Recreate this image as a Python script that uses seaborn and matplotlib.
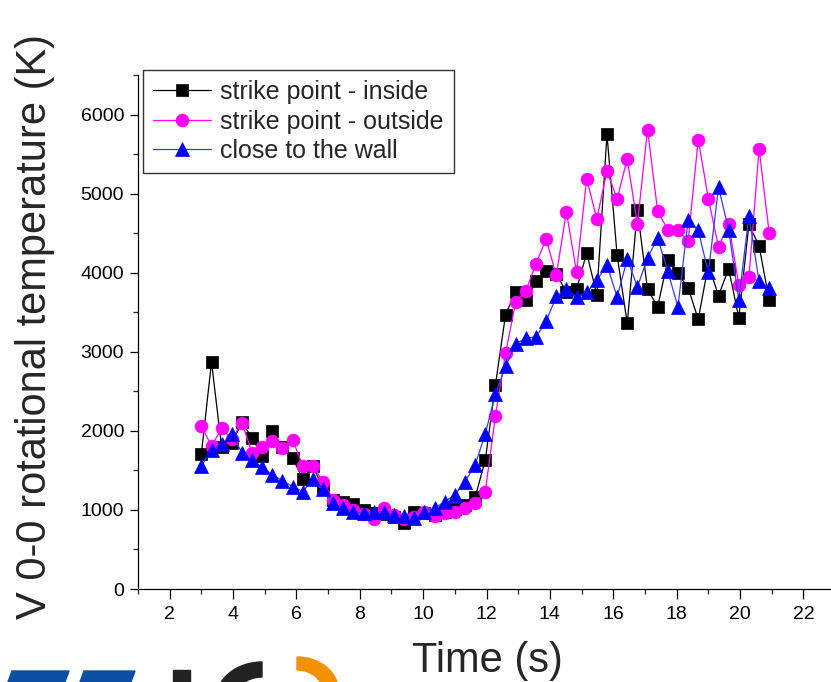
import numpy as np
import pandas as pd
import matplotlib
matplotlib.use("Agg")
import matplotlib.pyplot as plt
from matplotlib.patches import Polygon, Wedge
import seaborn as sns

# ---- data ----
time_s = [3.00, 3.32, 3.64, 3.96, 4.28, 4.60, 4.92, 5.24, 5.56, 5.88,
          6.20, 6.52, 6.84, 7.16, 7.48, 7.80, 8.12, 8.44, 8.76, 9.08,
          9.40, 9.72, 10.04, 10.36, 10.68, 11.00, 11.32, 11.64, 11.96, 12.28,
          12.60, 12.92, 13.24, 13.56, 13.88, 14.20, 14.52, 14.84, 15.16, 15.48,
          15.80, 16.12, 16.44, 16.76, 17.08, 17.40, 17.72, 18.04, 18.36, 18.68,
          19.00, 19.32, 19.64, 19.96, 20.28, 20.60, 20.92]

inside = [1710, 2870, 1790, 1840, 2110, 1910, 1680, 2000, 1790, 1660,
          1390, 1550, 1280, 1130, 1100, 1080, 1000, 960, 950, 910,
          830, 970, 960, 940, 970, 1010, 1060, 1160, 1630, 2580,
          3470, 3760, 3650, 3890, 4020, 3980, 3760, 3790, 4250, 3720,
          5750, 4220, 3360, 4790, 3790, 3570, 4160, 3990, 3810, 3410,
          4100, 3710, 4050, 3430, 4610, 4340, 3650]

outside = [2060, 1810, 2030, 1895, 2105, 1720, 1790, 1873, 1780, 1886,
           1560, 1557, 1358, 1130, 1063, 1000, 945, 890, 1020, 937,
           882, 908, 978, 924, 958, 978, 1022, 1085, 1232, 2190,
           2983, 3629, 3772, 4114, 4427, 3966, 4772, 4009, 5186, 4680,
           5287, 4933, 5439, 4616, 5810, 4776, 4544, 4544, 4396, 5684,
           4933, 4325, 4616, 3848, 3941, 5566, 4503]

wall = [1557, 1759, 1832, 1958, 1725, 1633, 1540, 1443, 1371, 1295,
        1232, 1389, 1262, 1092, 1022, 978, 958, 978, 978, 937,
        924, 895, 978, 1022, 1105, 1190, 1358, 1570, 1962, 2468,
        2814, 3101, 3173, 3186, 3384, 3700, 3797, 3687, 3750, 3903,
        4101, 3692, 4173, 3819, 4186, 4439, 4016, 3566, 4662, 4535,
        4004, 5080, 4544, 3658, 4722, 3890, 3806]

series_names = ["strike point - inside", "strike point - outside", "close to the wall"]
x_ticks = [2, 4, 6, 8, 10, 12, 14, 16, 18, 20, 22]
y_ticks = [0, 1000, 2000, 3000, 4000, 5000, 6000]

df = pd.DataFrame({"time": time_s, "inside": inside, "outside": outside, "wall": wall})

sns.set_theme(style="ticks")
plt.rcParams["font.family"] = ["Liberation Sans", "DejaVu Sans"]

fig = plt.figure(figsize=(8.31, 6.82), dpi=100)
ax = fig.add_axes([138 / 831, 93 / 682, 1 - 138 / 831, 514 / 682])

sns.lineplot(data=df, x="time", y="inside", ax=ax, color="black", lw=0.9,
             marker="s", markersize=8.6, markeredgecolor="black", markeredgewidth=0.5,
             label=series_names[0], sort=False, estimator=None)
sns.lineplot(data=df, x="time", y="outside", ax=ax, color="#ff00ff", lw=0.9,
             marker="o", markersize=9.2, markeredgecolor="#ff00ff", markeredgewidth=0.5,
             label=series_names[1], sort=False, estimator=None)
sns.lineplot(data=df, x="time", y="wall", ax=ax, color="#3a3aff", lw=0.9,
             marker="^", markersize=9.6, markerfacecolor="#0000ff",
             markeredgecolor="#0000ff", markeredgewidth=0.5,
             label=series_names[2], sort=False, estimator=None)

ax.set_xlim(1, 22.87)
ax.set_ylim(0, 6500)
ax.set_xticks(x_ticks)
ax.set_yticks(y_ticks)
ax.set_xticks(np.arange(1, 23, 1), minor=True)
ax.set_yticks(np.arange(0, 6501, 500), minor=True)
ax.tick_params(axis="both", which="major", direction="out", length=6, width=0.9,
               labelsize=14, colors="black", pad=4)
ax.tick_params(axis="both", which="minor", direction="out", length=3.5, width=0.9)
ax.tick_params(axis="x", which="major", length=7, pad=5)

for s in ["top", "right"]:
    ax.spines[s].set_visible(False)
for s in ["left", "bottom"]:
    ax.spines[s].set_color("black")
    ax.spines[s].set_linewidth(0.9)

ax.set_xlabel("Time (s)", fontsize=30)
ax.set_ylabel("V 0-0 rotational temperature (K)", fontsize=30)
ax.xaxis.set_label_coords(0.504, -0.102)
ax.yaxis.set_label_coords(-0.12, 0.51)

leg = ax.legend(loc="upper left", bbox_to_anchor=(143 / 831, 1 - 70 / 682),
                bbox_transform=fig.transFigure, borderaxespad=0, fontsize=18,
                frameon=True, fancybox=False, edgecolor="black", handlelength=2.3,
                handletextpad=0.4, labelspacing=0.22, borderpad=0.4)
leg.get_frame().set_linewidth(1.0)

# partial logo at the bottom-left corner (decoration)
def px(x, y):
    return (x / 831, 1 - y / 682)

blue = "#0b4ea2"
for x0, x1 in [(8, 69), (80, 135)]:
    fig.patches.append(Polygon([px(x0 + 4, 671), px(x1, 671), px(x1 - 4, 682), px(x0, 682)],
                               closed=True, transform=fig.transFigure, color=blue))
fig.patches.append(Polygon([px(173, 670), px(190, 670), px(190, 682), px(173, 682)],
                           closed=True, transform=fig.transFigure, color="#222222"))
fig.patches.append(Wedge(px(262, 700), 38 / 682, 90, 180, width=15 / 682,
                         transform=fig.transFigure, color="#222222"))
fig.patches.append(Wedge(px(297, 691), 34 / 682, 0, 90, width=13 / 682,
                         transform=fig.transFigure, color="#f39200"))

fig.savefig("out.png", dpi=100)
